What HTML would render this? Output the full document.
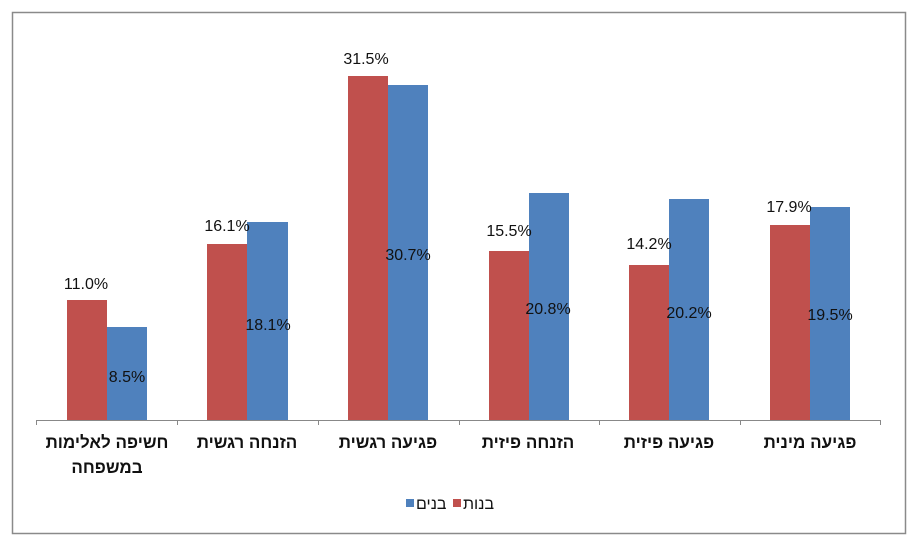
<!DOCTYPE html>
<html><head><meta charset="utf-8"><style>
body{margin:0;background:#fff;}
text{font-family:"Liberation Sans","Noto Sans CJK SC",sans-serif;}
</style></head><body>
<svg width="923" height="551" xmlns="http://www.w3.org/2000/svg">
<rect x="12.5" y="12.5" width="893" height="521" fill="#fff" stroke="#8a8a8a" stroke-width="1.5"/>
<line x1="36" y1="420.5" x2="880" y2="420.5" stroke="#888" stroke-width="1"/>
<g stroke="#888">
<line x1="36.5" y1="420" x2="36.5" y2="425"/><line x1="177.5" y1="420" x2="177.5" y2="425"/>
<line x1="318.5" y1="420" x2="318.5" y2="425"/><line x1="459.5" y1="420" x2="459.5" y2="425"/>
<line x1="599.5" y1="420" x2="599.5" y2="425"/><line x1="740.5" y1="420" x2="740.5" y2="425"/>
<line x1="880.5" y1="420" x2="880.5" y2="425"/>
</g>
<g>
<rect x="67" y="300" width="40" height="120" fill="#C0504D"/><rect x="107" y="327" width="40" height="93" fill="#4F81BD"/>
<rect x="207" y="244" width="40" height="176" fill="#C0504D"/><rect x="247" y="222" width="41" height="198" fill="#4F81BD"/>
<rect x="348" y="76" width="40" height="344" fill="#C0504D"/><rect x="388" y="85" width="40" height="335" fill="#4F81BD"/>
<rect x="489" y="251" width="40" height="169" fill="#C0504D"/><rect x="529" y="193" width="40" height="227" fill="#4F81BD"/>
<rect x="629" y="265" width="40" height="155" fill="#C0504D"/><rect x="669" y="199" width="40" height="221" fill="#4F81BD"/>
<rect x="770" y="225" width="40" height="195" fill="#C0504D"/><rect x="810" y="207" width="40" height="213" fill="#4F81BD"/>
</g>
<g font-size="16" fill="#111" text-anchor="middle">
<text x="86" y="289">11.0%</text><text x="127" y="382">8.5%</text>
<text x="227" y="231">16.1%</text><text x="268" y="330">18.1%</text>
<text x="366" y="64">31.5%</text><text x="408" y="260">30.7%</text>
<text x="509" y="236">15.5%</text><text x="548" y="314">20.8%</text>
<text x="649" y="249">14.2%</text><text x="689" y="318">20.2%</text>
<text x="789" y="212">17.9%</text><text x="830" y="320">19.5%</text>
</g>
<g font-size="17" font-weight="bold" fill="#111" text-anchor="middle" direction="rtl">
<text x="107" y="448">חשיפה לאלימות</text><text x="107" y="473">במשפחה</text>
<text x="247" y="448">הזנחה רגשית</text>
<text x="388" y="448">פגיעה רגשית</text>
<text x="528" y="448">הזנחה פיזית</text>
<text x="669" y="448">פגיעה פיזית</text>
<text x="810" y="448">פגיעה מינית</text>
</g>
<rect x="406" y="499" width="8" height="8" fill="#4F81BD"/>
<text x="416" y="509" font-size="16" fill="#111">בנים</text>
<rect x="453" y="499" width="8" height="8" fill="#C0504D"/>
<text x="463" y="509" font-size="16" fill="#111">בנות</text>
</svg>
</body></html>
